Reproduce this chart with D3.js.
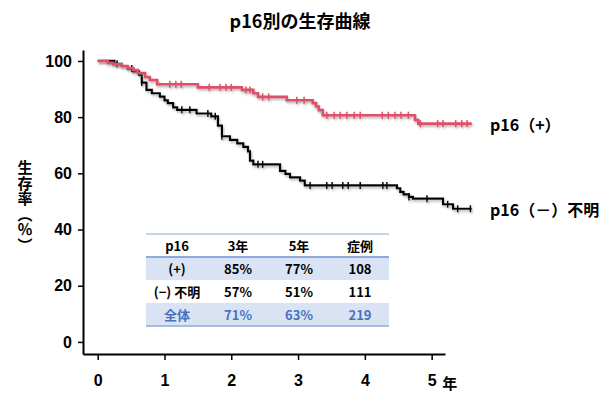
<!doctype html>
<html lang="ja">
<head>
<meta charset="utf-8">
<title>p16別の生存曲線</title>
<style>
  body { margin: 0; background: #fff; }
  svg text { font-family: "Noto Sans CJK JP", "Liberation Sans", sans-serif; }
</style>
</head>
<body>
<svg id="chart" width="600" height="395" viewBox="0 0 600 395"></svg>

<script src="https://d3js.org/d3.v7.min.js"></script>
<script>
// step points [years, survival %] and censor times
const posSteps = [
  [0, 100], [0.15, 99.3], [0.23, 98.8], [0.36, 98.2], [0.45, 97.5], [0.53, 96.8],
  [0.60, 95.7], [0.71, 94.3], [0.78, 93.2], [0.89, 91.7], [1.50, 90.6],
  [2.16, 89.7], [2.33, 88.5], [2.40, 87.2], [2.83, 86.0], [3.22, 85.0],
  [3.27, 83.8], [3.31, 82.5], [3.37, 80.7], [4.75, 79.0], [4.80, 77.7], [5.60, 77.7]
];
const posCensor = [1.08, 1.17, 1.25, 1.67, 1.83, 1.92, 2.00, 2.22, 2.28, 2.47, 2.56,
  2.98, 3.09, 3.43, 3.54, 3.63, 3.73, 3.84, 3.93, 4.26, 4.35, 4.45, 4.54, 4.65,
  4.83, 5.09, 5.17, 5.36, 5.45, 5.53];

const negSteps = [
  [0, 100], [0.25, 99.0], [0.36, 98.2], [0.45, 97.3], [0.53, 96.3], [0.62, 95.0],
  [0.66, 92.3], [0.73, 89.7], [0.81, 88.5], [0.93, 87.3], [1.00, 86.0], [1.05, 85.0],
  [1.13, 83.5], [1.19, 82.6], [1.48, 81.3], [1.70, 80.3], [1.80, 77.0], [1.86, 73.2],
  [1.98, 71.9], [2.09, 70.7], [2.18, 69.4], [2.25, 67.8], [2.28, 64.5], [2.33, 63.2],
  [2.73, 60.9], [2.81, 59.8], [2.88, 58.6], [3.03, 57.4], [3.10, 55.7], [4.48, 54.7],
  [4.53, 53.4], [4.58, 52.5], [4.66, 51.6], [4.72, 51.0], [5.17, 49.0], [5.32, 47.4],
  [5.60, 47.4]
];
const negCensor = [0.29, 0.51, 0.66, 1.26, 1.38, 1.65, 1.76, 1.86, 2.40, 2.47, 3.18,
  3.43, 3.51, 3.67, 3.75, 3.93, 4.27, 4.33, 4.66, 4.93, 5.24, 5.39, 5.58];

const seriesNames = ['p16（+）', 'p16（－）不明'];
const yTicks = [0, 20, 40, 60, 80, 100];
const xTicks = [0, 1, 2, 3, 4, 5];

const tableHeader = ['p16', '3年', '5年', '症例'];
const tableRows = [
  ['(+)', '85%', '77%', '108'],
  ['(−) 不明', '57%', '51%', '111'],
  ['全体', '71%', '63%', '219']
];

const red = '#e0506a';
const lineBlue = '#8eaadb';
const fillBlue = '#dae3f3';
const textBlue = '#4472c4';

const svg = d3.select('#chart');

const defs = svg.append('defs');
defs.append('filter')
  .attr('id', 'shadow')
  .attr('x', '-5%').attr('y', '-20%').attr('width', '110%').attr('height', '140%')
  .append('feDropShadow')
  .attr('dx', 1).attr('dy', 1.8).attr('stdDeviation', 0.8)
  .attr('flood-color', '#777').attr('flood-opacity', 0.55);

const x = d3.scaleLinear().domain([-0.22, 5.2]).range([83, 445]);
const y = d3.scaleLinear().domain([-4.3, 103.9]).range([354, 50]);

// title
svg.append('text')
  .attr('x', 300).attr('y', 20)
  .attr('text-anchor', 'middle').attr('dominant-baseline', 'central')
  .attr('font-size', 18).attr('font-weight', 'bold')
  .text('p16別の生存曲線');

// axes
const yAxis = svg.append('g')
  .attr('transform', `translate(${x.range()[0]},0)`)
  .call(d3.axisLeft(y).tickValues(yTicks).tickSize(5).tickSizeOuter(0).tickPadding(6));
const xAxis = svg.append('g')
  .attr('transform', `translate(0,${y.range()[0]})`)
  .call(d3.axisBottom(x).tickValues(xTicks).tickFormat(d3.format('d'))
    .tickSize(6).tickSizeOuter(0).tickPadding(15));

[yAxis, xAxis].forEach(g => {
  g.select('.domain').attr('stroke', '#000').attr('stroke-width', 2);
  g.selectAll('.tick line').attr('stroke', '#000').attr('stroke-width', 1.5);
  g.selectAll('.tick text')
    .attr('fill', '#000')
    .attr('font-size', 16)
    .attr('font-weight', 'bold')
    .style('font-family', '"Liberation Sans", Arial, sans-serif');
});

svg.append('text')
  .attr('x', x(5) + 18).attr('y', y.range()[0] + 28)
  .attr('text-anchor', 'middle').attr('dominant-baseline', 'central')
  .attr('font-size', 15).attr('font-weight', 'bold')
  .text('年');

// y label in vertical writing
svg.append('text')
  .attr('x', 25).attr('y', 160)
  .style('writing-mode', 'vertical-rl')
  .style('letter-spacing', '0.5px')
  .attr('font-size', 15).attr('font-weight', 'bold')
  .text('生存率（％）');

// survival curves
const line = d3.line()
  .x(d => x(d[0]))
  .y(d => y(d[1]))
  .curve(d3.curveStepAfter);

function survAt(steps, t) {
  let v = steps[0][1];
  steps.forEach(s => { if (s[0] <= t) v = s[1]; });
  return v;
}

function drawCurve(steps, censor, color, width) {
  const g = svg.append('g').attr('filter', 'url(#shadow)');
  g.append('path')
    .datum(steps)
    .attr('fill', 'none')
    .attr('stroke', color)
    .attr('stroke-width', width)
    .attr('d', line);
  g.selectAll('line.cens')
    .data(censor)
    .join('line')
    .attr('class', 'cens')
    .attr('x1', d => x(d)).attr('x2', d => x(d))
    .attr('y1', d => y(survAt(steps, d)) - 3.5)
    .attr('y2', d => y(survAt(steps, d)) + 3.5)
    .attr('stroke', color)
    .attr('stroke-width', 1.5);
}

drawCurve(negSteps, negCensor, '#000', 2.2);
drawCurve(posSteps, posCensor, red, 2.6);

// series labels at the curve ends
[posSteps, negSteps].forEach((s, i) => {
  svg.append('text')
    .attr('x', 490)
    .attr('y', y(s[s.length - 1][1]))
    .attr('dominant-baseline', 'central')
    .attr('font-size', 16).attr('font-weight', 'bold')
    .text(seriesNames[i]);
});

// summary table
const col = d3.scalePoint().domain(d3.range(tableHeader.length)).range([177, 360]);
const row = d3.scaleBand().domain(d3.range(tableRows.length + 1)).range([234, 326]);
const tbl = svg.append('g');
const tLeft = 146, tRight = 389;

[1, 3].forEach(r => {
  tbl.append('rect')
    .attr('x', tLeft).attr('y', row(r))
    .attr('width', tRight - tLeft).attr('height', row.bandwidth())
    .attr('fill', fillBlue);
});
[[row(0), 1.2], [row(1), 2], [row.range()[1], 1.5]].forEach(([ly, w]) => {
  tbl.append('line')
    .attr('x1', tLeft).attr('x2', tRight)
    .attr('y1', ly).attr('y2', ly)
    .attr('stroke', lineBlue).attr('stroke-width', w);
});

[tableHeader].concat(tableRows).forEach((cells, r) => {
  cells.forEach((c, j) => {
    tbl.append('text')
      .attr('x', col(j))
      .attr('y', row(r) + row.bandwidth() / 2)
      .attr('text-anchor', 'middle').attr('dominant-baseline', 'central')
      .attr('font-size', 13).attr('font-weight', 'bold')
      .attr('fill', r === tableRows.length ? textBlue : '#000')
      .text(c);
  });
});
</script>
</body>
</html>
